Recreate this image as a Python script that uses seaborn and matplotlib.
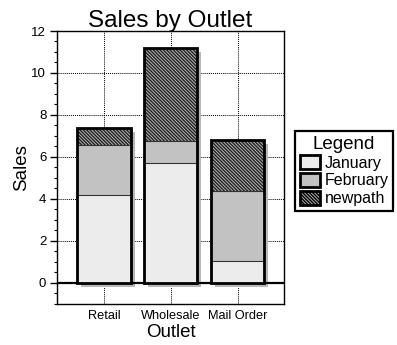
import numpy as np
import pandas as pd
import matplotlib
matplotlib.use("Agg")
import matplotlib.pyplot as plt
from matplotlib.transforms import offset_copy
from matplotlib.patches import Patch
from matplotlib.lines import Line2D
from matplotlib.ticker import MultipleLocator
import seaborn as sns

# Data
outlets = ["Retail", "Wholesale", "Mail Order"]
january = [4.2, 5.7, 1.05]
february = [2.35, 1.05, 3.3]
newpath = [0.8, 4.45, 2.45]
series_names = ["January", "February", "newpath"]

sns.set_theme(style="white")
plt.rcParams["font.family"] = ["Liberation Sans", "DejaVu Sans"]
plt.rcParams["text.color"] = "black"
plt.rcParams["axes.labelcolor"] = "black"
plt.rcParams["hatch.linewidth"] = 1.0

jan = np.array(january)
feb = np.array(february)
new = np.array(newpath)
df = pd.DataFrame({
    "Outlet": outlets,
    "jan_top": jan,
    "feb_top": jan + feb,
    "total": jan + feb + new,
})

# fill styles per series: (facecolor, hatch, hatch colour)
styles = {
    "January": ("#ececec", None, "#ececec"),
    "February": ("#c2c2c2", None, "#c2c2c2"),
    "newpath": ("#b4b4b4", "\\" * 10, "#222222"),
}

W, H = 397, 345
fig = plt.figure(figsize=(W / 100, H / 100), dpi=100)
ax = fig.add_axes([56.7 / W, 1 - 303.5 / H, (284.3 - 56.7) / W, (303.5 - 31) / H])
ax.set_axisbelow(True)

# drop shadow behind each stack
sns.barplot(data=df, x="Outlet", y="total", ax=ax, color="#b8b8b8",
            saturation=1, width=0.8, linewidth=0, zorder=1)
shadow_tr = offset_copy(ax.transData, fig=fig, x=4, y=-4, units="dots")
for p in ax.patches:
    p.set_transform(shadow_tr)

# baseline at zero
ax.axhline(0, color="black", lw=1.6, zorder=1.5)

# stacked layers, drawn from the tallest cumulative sum downwards
for col, name in [("total", "newpath"), ("feb_top", "February"), ("jan_top", "January")]:
    fc, hatch, hc = styles[name]
    sns.barplot(data=df, x="Outlet", y=col, ax=ax, color=fc, saturation=1,
                width=0.8, hatch=hatch, edgecolor=hc, linewidth=0, zorder=2)

# thin separators between segments
for col in ["feb_top", "jan_top"]:
    sns.barplot(data=df, x="Outlet", y=col, ax=ax, color="#333333", fill=False,
                width=0.8, linewidth=0.8, zorder=2.5)

# heavy outline around each stack
sns.barplot(data=df, x="Outlet", y="total", ax=ax, color="black", fill=False,
            width=0.8, linewidth=2.0, zorder=3)

ax.set_ylim(-1, 12)
ax.set_xlim(-0.708, 2.70)
ax.set_yticks(np.arange(0, 13, 2))
ax.yaxis.set_minor_locator(MultipleLocator(0.5))

ax.grid(True, which="major", color="black", linestyle=(0, (1, 1)), lw=0.7)
for s in ax.spines.values():
    s.set_color("black")
    s.set_linewidth(1.0)

ax.tick_params(axis="y", which="major", left=True, direction="out", length=5,
               width=1, labelsize=9.5, pad=2.5, colors="black")
ax.tick_params(axis="y", which="minor", left=True, direction="out", length=2.5,
               width=0.8, colors="black")
ax.tick_params(axis="x", which="major", bottom=False, length=0, labelsize=9.2,
               pad=5, colors="black")

ax.set_title("Sales by Outlet", fontsize=17.5, pad=3, color="black")
ax.set_xlabel("Outlet", fontsize=13.5, labelpad=1, color="black")
ax.set_ylabel("Sales", fontsize=13.5, labelpad=1, color="black")

# legend
handles = []
for name in series_names:
    fc, hatch, hc = styles[name]
    handles.append(Patch(facecolor=fc, hatch=hatch, edgecolor="black", linewidth=2))
leg = fig.legend(handles, series_names, title="Legend",
                 loc="upper left", bbox_to_anchor=(295 / W, 1 - 131 / H),
                 bbox_transform=fig.transFigure, borderaxespad=0,
                 fontsize=11.5, title_fontsize=13.5, fancybox=False,
                 framealpha=1, edgecolor="black", handlelength=1.25,
                 handleheight=0.95, handletextpad=0.3, labelspacing=0.15,
                 borderpad=0.3)
leg.get_frame().set_linewidth(1.6)
for t in leg.get_texts():
    t.set_color("black")
leg.get_title().set_color("black")
fig.add_artist(Line2D([300 / W, 391 / W], [1 - 156 / H, 1 - 156 / H],
                      transform=fig.transFigure, color="black", lw=2))

fig.savefig("out.png", dpi=100)
